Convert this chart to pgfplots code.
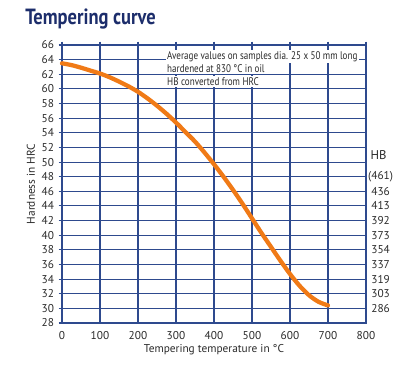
\documentclass[border=0pt]{standalone}
\usepackage{fontspec}
\setmainfont{PT Sans}
\usepackage{graphicx}
\usepackage{pgfplots}
\pgfplotsset{compat=1.18}
\definecolor{gridblue}{HTML}{2E4A8E}
\definecolor{curveor}{HTML}{F07A16}
\definecolor{titleblue}{HTML}{1C2D6B}
\definecolor{txt}{HTML}{2A2A2A}
\begin{document}
\begin{tikzpicture}[x=1pt,y=1pt]
\path[use as bounding box] (0,0) rectangle (314.25,277.5);
\node[anchor=base west, inner sep=0pt, text=titleblue, font=\fontsize{16.5}{20}\selectfont\bfseries] at (18.75,258.75) {\scalebox{0.84}[1]{Tempering curve}};
\begin{axis}[
  at={(46.5pt,35.25pt)}, anchor=south west, scale only axis,
  width=228pt, height=208.5pt,
  xmin=0, xmax=800, ymin=28, ymax=66,
  xtick={0,100,...,800}, ytick={28,30,...,66},
  grid=major, grid style={gridblue, line width=0.8pt},
  axis line style={gridblue, line width=0.8pt},
  tick style={gridblue, line width=0.8pt},
  tick align=outside, major tick length=2.5pt,
  xtick pos=upper, xticklabel pos=lower,
  ytick pos=left, yticklabel pos=left,
  /pgf/number format/assume math mode=true,
  /pgf/number format/1000 sep={},
  ticklabel style={font=\fontsize{8.5}{10}\selectfont, text=txt},
  xlabel={Tempering temperature in °C},
  ylabel={Hardness in HRC},
  label style={font=\fontsize{8.5}{10}\selectfont, text=txt},
  xlabel style={yshift=3pt},
  ylabel style={yshift=-2pt},
  clip=false,
]
\addplot[curveor, line width=3.2pt, smooth, line cap=round] coordinates {
(0,63.5)(25,63.25)(50,62.9)(75,62.5)(100,62.1)(125,61.6)(150,61.0)(175,60.35)(200,59.6)(225,58.7)(250,57.7)(275,56.6)(300,55.4)(325,54.1)(350,52.8)(375,51.3)(400,49.7)(425,48.0)(450,46.2)(475,44.3)(500,42.3)(525,40.3)(550,38.4)(575,36.5)(600,34.7)(625,33.1)(650,31.8)(675,30.9)(700,30.4)
};
\node[anchor=west, fill=white, inner sep=1.2pt, font=\fontsize{8.3}{9.5}\selectfont, text=txt] at (axis cs:272,64.45) {\scalebox{0.82}[1]{Average values on samples dia. 25 x 50 mm long}\hspace{4pt}};
\node[anchor=west, fill=white, inner sep=1.2pt, font=\fontsize{8.3}{9.5}\selectfont, text=txt] at (axis cs:272,62.75) {\scalebox{0.82}[1]{hardened at 830 °C in oil}};
\node[anchor=west, fill=white, inner sep=1.2pt, font=\fontsize{8.3}{9.5}\selectfont, text=txt] at (axis cs:272,61.05) {\scalebox{0.82}[1]{HB converted from HRC}};
\node[anchor=west, font=\fontsize{9.5}{11}\selectfont, text=txt] at (axis cs:800,51) {HB};
\end{axis}
\begin{axis}[
  at={(46.5pt,35.25pt)}, anchor=south west, scale only axis,
  width=228pt, height=208.5pt,
  xmin=0, xmax=800, ymin=28, ymax=66,
  axis x line=none, axis y line*=right,
  axis line style={draw=none},
  ytick={30,32,...,48},
  yticklabels={286,303,319,337,354,373,392,413,436,(461)},
  major tick length=0pt,
  yticklabel style={font=\fontsize{8.5}{10}\selectfont, text=txt, anchor=center, xshift=11pt},
]
\addplot[draw=none] coordinates {(0,30)};
\end{axis}
\end{tikzpicture}
\end{document}
